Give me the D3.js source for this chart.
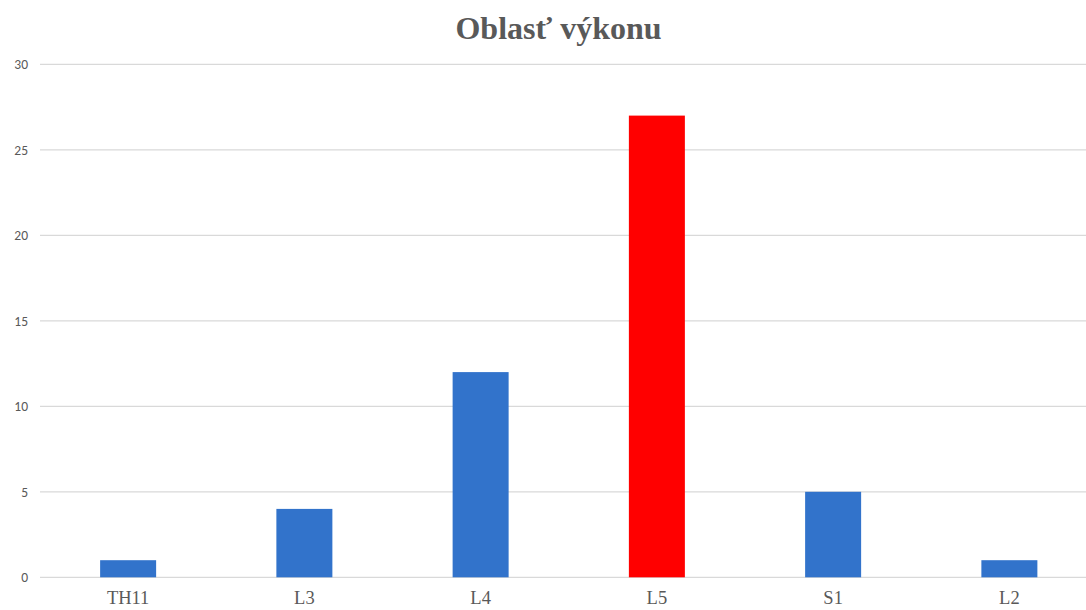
<!DOCTYPE html>
<html><head><meta charset="utf-8">
<script src="https://cdn.jsdelivr.net/npm/d3@7"></script>
<style>html,body{margin:0;padding:0;background:#fff;overflow:hidden}</style>
</head><body>
<script>
const categories = ["TH11", "L3", "L4", "L5", "S1", "L2"];
const values = [1, 4, 12, 27, 5, 1];
const barColors = ["#3273CB", "#3273CB", "#3273CB", "#FF0000", "#3273CB", "#3273CB"];
const yTicks = [0, 5, 10, 15, 20, 25, 30];
const title = "Oblasť výkonu";

const W = 1086, H = 610;
const svg = d3.select("body").append("svg").attr("width", W).attr("height", H);

const x = d3.scaleBand().domain(categories).range([40, 1097.5])
  .paddingInner(1 - 56/176.25).paddingOuter((1 - 56/176.25)/2);
const y = d3.scaleLinear().domain([0, 30]).range([577.3, 64.3]);

// gridlines
svg.append("g").selectAll("line").data(yTicks).join("line")
  .attr("x1", 40).attr("x2", W)
  .attr("y1", d => y(d)).attr("y2", d => y(d))
  .attr("stroke", "#D9D9D9").attr("stroke-width", 1.3);

// y axis labels
const yAxis = d3.axisLeft(y).tickValues(yTicks).tickSize(0).tickPadding(0);
const ya = svg.append("g").attr("transform", "translate(28,0)").call(yAxis);
ya.select(".domain").remove();
ya.selectAll("text").attr("font-family", "Carlito, 'Open Sans', 'Noto Sans', sans-serif")
  .attr("font-size", 13.5).attr("fill", "#595959");

// bars
svg.append("g").selectAll("rect").data(values).join("rect")
  .attr("x", (d, i) => x(categories[i]))
  .attr("width", x.bandwidth())
  .attr("y", d => y(d))
  .attr("height", d => y(0) - y(d))
  .attr("fill", (d, i) => barColors[i]);

// x axis labels
const xAxis = d3.axisBottom(x).tickSize(0).tickPadding(0);
const xa = svg.append("g").attr("transform", "translate(0,591)").call(xAxis);
xa.select(".domain").remove();
xa.selectAll("text").attr("font-family", "'Liberation Serif', 'Times New Roman', serif")
  .attr("font-size", 18.5).attr("fill", "#595959");

// title
svg.append("text").attr("x", 558.5).attr("y", 39).attr("text-anchor", "middle")
  .attr("font-family", "'Liberation Serif', 'Times New Roman', serif")
  .attr("font-weight", "bold").attr("font-size", 32).attr("fill", "#595959")
  .text(title);
</script>
</body></html>
